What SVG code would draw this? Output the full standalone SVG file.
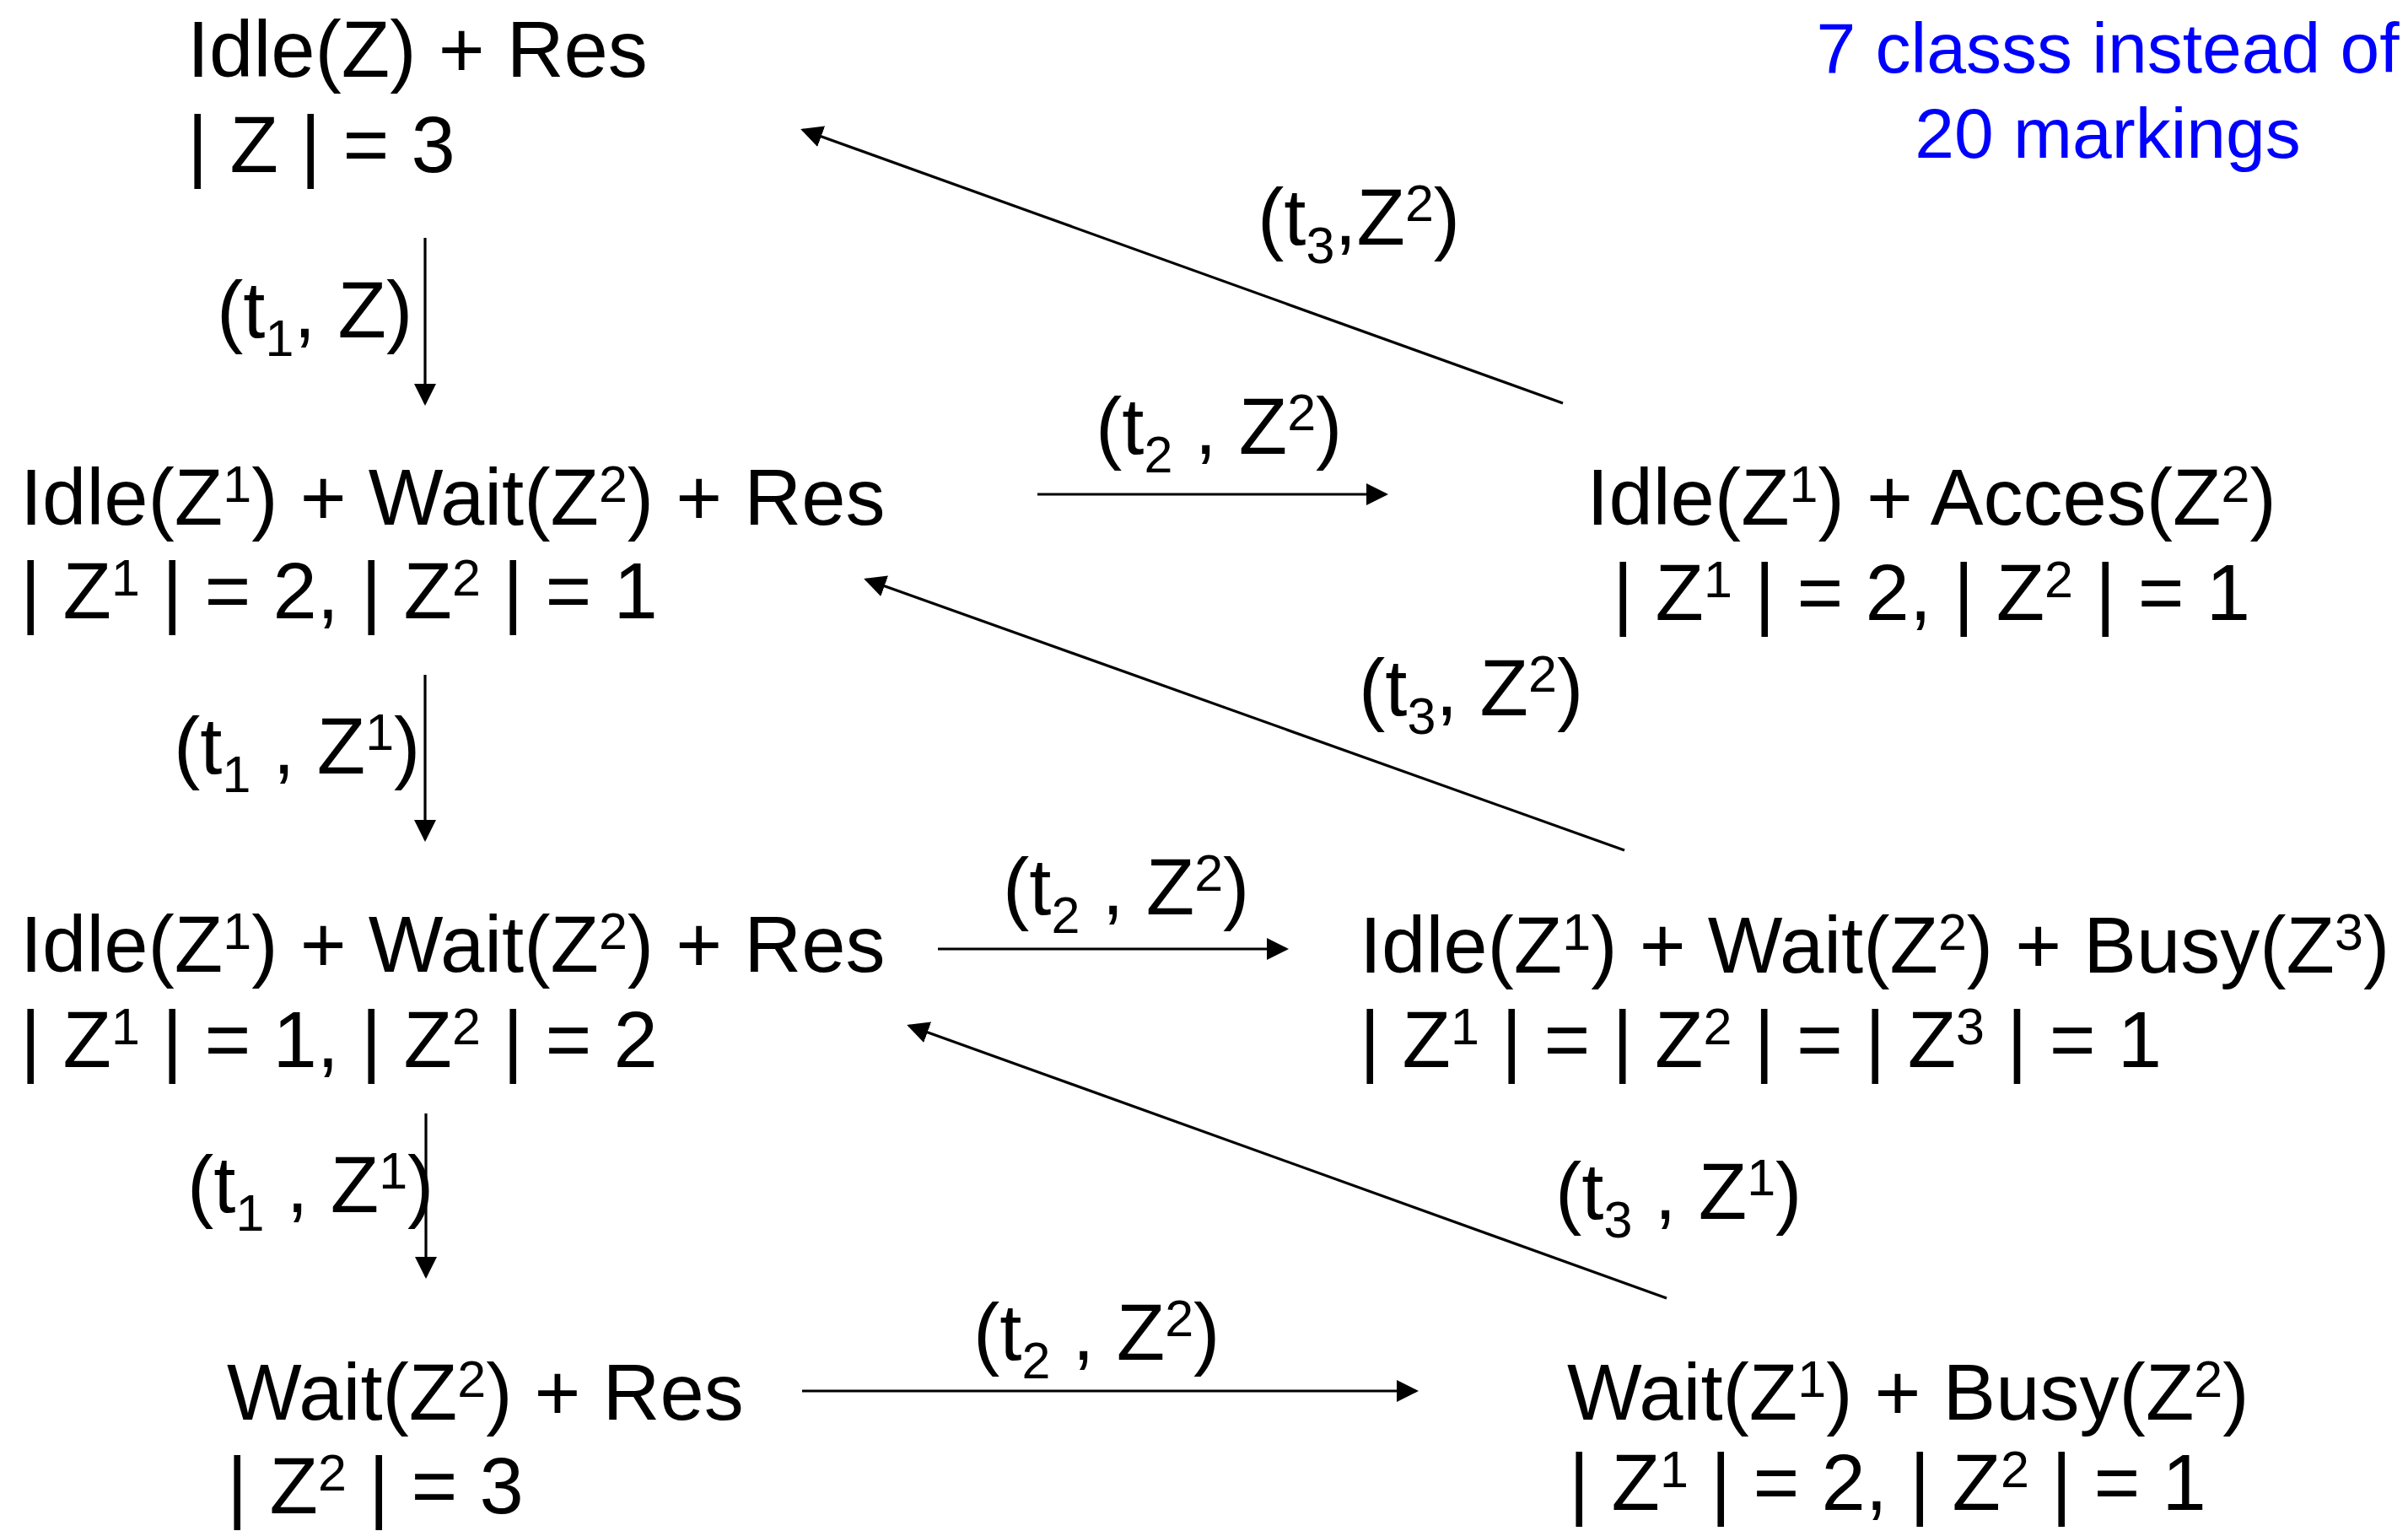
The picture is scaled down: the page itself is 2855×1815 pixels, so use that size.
<svg xmlns="http://www.w3.org/2000/svg" width="2855" height="1815" viewBox="0 0 2855 1815">
<style>
text{font-family:"Liberation Sans",Arial,Helvetica,sans-serif;font-size:94px;fill:#000}
.s{font-size:61px}
.note{fill:#0000ff;font-size:84px;text-anchor:middle}
.mid{text-anchor:middle}
.edge{stroke:#000;stroke-width:3.2;fill:none;marker-end:url(#ah)}
</style>
<defs>
<marker id="ah" markerUnits="userSpaceOnUse" viewBox="0 0 26 26" markerWidth="26" markerHeight="26" refX="23" refY="13" orient="auto">
<path d="M0,0 L26,13 L0,26 z" fill="#000"/>
</marker>
</defs>
<rect width="2855" height="1815" fill="#fff"/>

<g id="note">
<text class="note" x="2499" y="86">7 classs instead of</text>
<text class="note" x="2499" y="187">20 markings</text>
</g>

<g id="n1">
<text x="222" y="91">Idle(Z) + Res</text>
<text x="222" y="204">| Z | = 3</text>
</g>

<g id="n2">
<text x="24" y="622">Idle(Z<tspan class="s" dy="-27">1</tspan><tspan dy="27">) + Wait(Z</tspan><tspan class="s" dy="-27">2</tspan><tspan dy="27">) + Res</tspan></text>
<text x="24" y="733">| Z<tspan class="s" dy="-27">1</tspan><tspan dy="27"> | = 2, | Z</tspan><tspan class="s" dy="-27">2</tspan><tspan dy="27"> | = 1</tspan></text>
</g>

<g id="n3">
<text x="24" y="1152">Idle(Z<tspan class="s" dy="-27">1</tspan><tspan dy="27">) + Wait(Z</tspan><tspan class="s" dy="-27">2</tspan><tspan dy="27">) + Res</tspan></text>
<text x="24" y="1265">| Z<tspan class="s" dy="-27">1</tspan><tspan dy="27"> | = 1, | Z</tspan><tspan class="s" dy="-27">2</tspan><tspan dy="27"> | = 2</tspan></text>
</g>

<g id="n4">
<text x="269" y="1683">Wait(Z<tspan class="s" dy="-27">2</tspan><tspan dy="27">) + Res</tspan></text>
<text x="269" y="1794">| Z<tspan class="s" dy="-27">2</tspan><tspan dy="27"> | = 3</tspan></text>
</g>

<g id="n5">
<text class="mid" x="2290" y="622">Idle(Z<tspan class="s" dy="-27">1</tspan><tspan dy="27">) + Acces(Z</tspan><tspan class="s" dy="-27">2</tspan><tspan dy="27">)</tspan></text>
<text class="mid" x="2290" y="735">| Z<tspan class="s" dy="-27">1</tspan><tspan dy="27"> | = 2, | Z</tspan><tspan class="s" dy="-27">2</tspan><tspan dy="27"> | = 1</tspan></text>
</g>

<g id="n6">
<text x="1612" y="1153">Idle(Z<tspan class="s" dy="-27">1</tspan><tspan dy="27">) + Wait(Z</tspan><tspan class="s" dy="-27">2</tspan><tspan dy="27">) + Busy(Z</tspan><tspan class="s" dy="-27">3</tspan><tspan dy="27">)</tspan></text>
<text x="1612" y="1265">| Z<tspan class="s" dy="-27">1</tspan><tspan dy="27"> | = | Z</tspan><tspan class="s" dy="-27">2</tspan><tspan dy="27"> | = | Z</tspan><tspan class="s" dy="-27">3</tspan><tspan dy="27"> | = 1</tspan></text>
</g>

<g id="n7">
<text x="1858" y="1683">Wait(Z<tspan class="s" dy="-27">1</tspan><tspan dy="27">) + Busy(Z</tspan><tspan class="s" dy="-27">2</tspan><tspan dy="27">)</tspan></text>
<text x="1860" y="1790">| Z<tspan class="s" dy="-27">1</tspan><tspan dy="27"> | = 2, | Z</tspan><tspan class="s" dy="-27">2</tspan><tspan dy="27"> | = 1</tspan></text>
</g>

<g id="connectors">
<line class="edge" x1="504" y1="282" x2="504" y2="478"/>
<line class="edge" x1="504" y1="800" x2="504" y2="995"/>
<line class="edge" x1="505" y1="1320" x2="505" y2="1513"/>
<line class="edge" x1="1230" y1="586" x2="1643" y2="586"/>
<line class="edge" x1="1112" y1="1125" x2="1525" y2="1125"/>
<line class="edge" x1="951" y1="1649" x2="1679" y2="1649"/>
<line class="edge" x1="1853" y1="478" x2="952" y2="154"/>
<line class="edge" x1="1926" y1="1008" x2="1027" y2="687"/>
<line class="edge" x1="1976" y1="1539" x2="1078" y2="1216"/>

<text x="257" y="400">(t<tspan class="s" dy="22">1</tspan><tspan dy="-22">, Z)</tspan></text>
<text x="206" y="917">(t<tspan class="s" dy="22">1</tspan><tspan dy="-22"> , Z</tspan><tspan class="s" dy="-28">1</tspan><tspan dy="28">)</tspan></text>
<text x="222" y="1437">(t<tspan class="s" dy="22">1</tspan><tspan dy="-22"> , Z</tspan><tspan class="s" dy="-28">1</tspan><tspan dy="28">)</tspan></text>
<text x="1299" y="538">(t<tspan class="s" dy="22">2</tspan><tspan dy="-22"> , Z</tspan><tspan class="s" dy="-28">2</tspan><tspan dy="28">)</tspan></text>
<text x="1189" y="1084">(t<tspan class="s" dy="22">2</tspan><tspan dy="-22"> , Z</tspan><tspan class="s" dy="-28">2</tspan><tspan dy="28">)</tspan></text>
<text x="1154" y="1612">(t<tspan class="s" dy="22">2</tspan><tspan dy="-22"> , Z</tspan><tspan class="s" dy="-28">2</tspan><tspan dy="28">)</tspan></text>
<text x="1491" y="290">(t<tspan class="s" dy="22">3</tspan><tspan dy="-22">,Z</tspan><tspan class="s" dy="-28">2</tspan><tspan dy="28">)</tspan></text>
<text x="1611" y="848">(t<tspan class="s" dy="22">3</tspan><tspan dy="-22">, Z</tspan><tspan class="s" dy="-28">2</tspan><tspan dy="28">)</tspan></text>
<text x="1844" y="1445">(t<tspan class="s" dy="22">3</tspan><tspan dy="-22"> , Z</tspan><tspan class="s" dy="-28">1</tspan><tspan dy="28">)</tspan></text>
</g>
</svg>
